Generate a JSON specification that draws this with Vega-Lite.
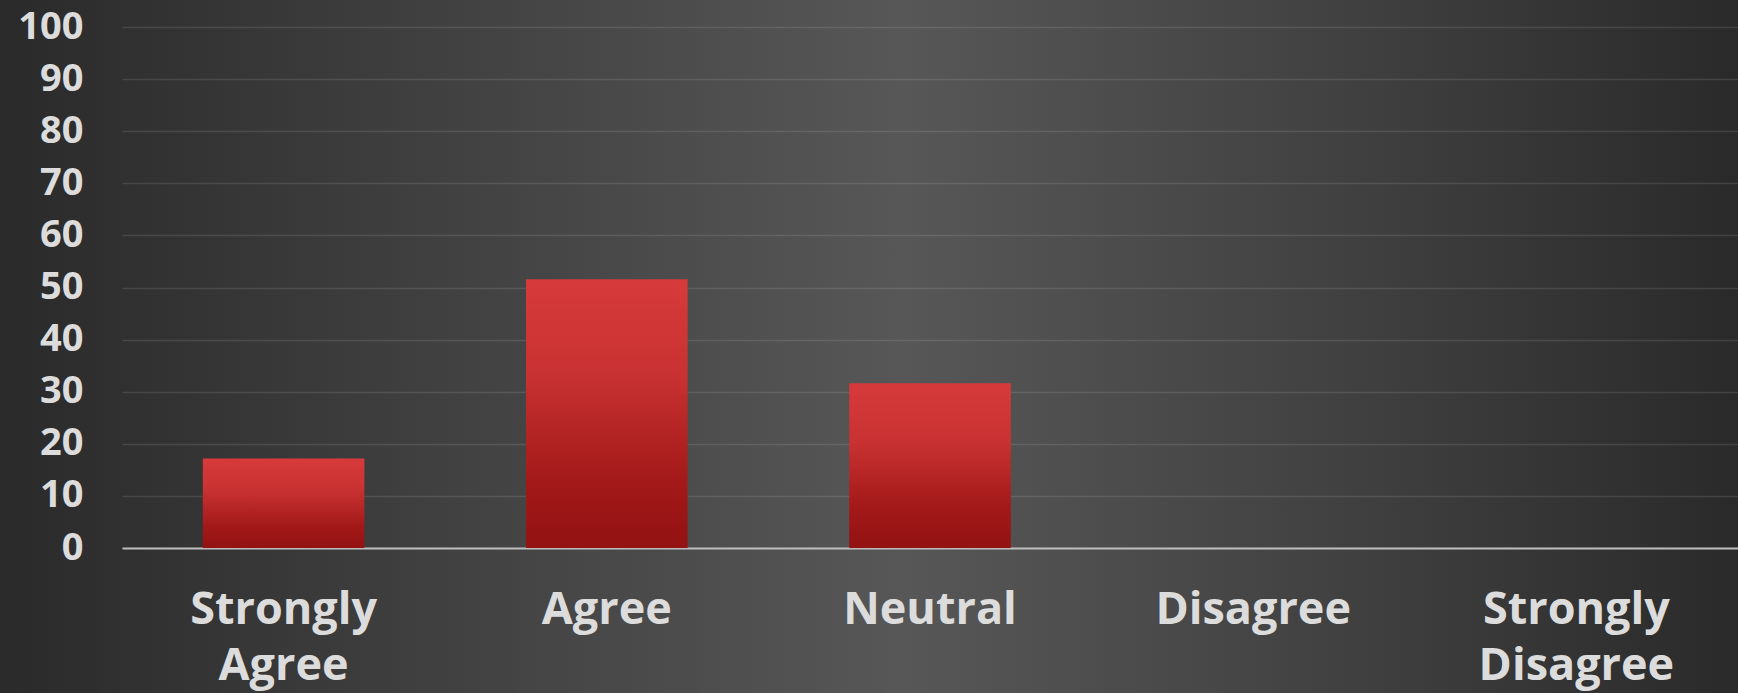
{
  "$schema": "https://vega.github.io/schema/vega-lite/v6.json",
  "width": 1738,
  "height": 693,
  "autosize": {"type": "none"},
  "padding": 0,
  "background": "#2a2a2a",
  "config": {
    "view": {
      "stroke": null,
      "fill": {
        "gradient": "linear",
        "x1": 0, "y1": 0, "x2": 1, "y2": 0,
        "stops": [
          {"offset": 0, "color": "#2a2a2a"},
          {"offset": 0.25, "color": "#404040"},
          {"offset": 0.52, "color": "#575757"},
          {"offset": 0.78, "color": "#404040"},
          {"offset": 1, "color": "#2a2a2a"}
        ]
      }
    },
    "axis": {"labelFont": "Open Sans", "labelFontWeight": "bold", "labelColor": "#dcdcdc", "title": null}
  },
  "data": {
    "values": [
      {"response": "Strongly Agree", "percent": 17.2},
      {"response": "Agree", "percent": 51.6},
      {"response": "Neutral", "percent": 31.6},
      {"response": "Disagree", "percent": 0},
      {"response": "Strongly Disagree", "percent": 0}
    ]
  },
  "mark": {
    "type": "bar",
    "color": {
      "gradient": "linear",
      "x1": 0, "y1": 0, "x2": 0, "y2": 1,
      "stops": [
        {"offset": 0, "color": "#d73a3a"},
        {"offset": 0.35, "color": "#c93232"},
        {"offset": 0.75, "color": "#a31919"},
        {"offset": 1, "color": "#931212"}
      ]
    }
  },
  "encoding": {
    "x": {
      "field": "response",
      "type": "nominal",
      "sort": null,
      "scale": {"range": [122, 1738], "paddingInner": 0.5, "paddingOuter": 0.25},
      "axis": {
        "offset": -145,
        "labelAngle": 0,
        "labelFontSize": 45,
        "labelLineHeight": 56,
        "labelExpr": "split(datum.label, ' ')",
        "labelPadding": 39,
        "ticks": false,
        "tickSize": 0,
        "grid": false,
        "domainColor": "#bdbdbd",
        "domainWidth": 2,
        "labelLimit": 400
      }
    },
    "y": {
      "field": "percent",
      "type": "quantitative",
      "scale": {"domain": [0, 100], "range": [548, 27], "nice": false},
      "axis": {
        "offset": -122,
        "values": [0, 10, 20, 30, 40, 50, 60, 70, 80, 90, 100],
        "labelFontSize": 38,
        "labelPadding": 39,
        "labelBaseline": "middle",
        "ticks": false,
        "tickSize": 0,
        "domain": false,
        "grid": true,
        "gridColor": "#ffffff",
        "gridOpacity": 0.11,
        "gridWidth": 1.5
      }
    }
  }
}
